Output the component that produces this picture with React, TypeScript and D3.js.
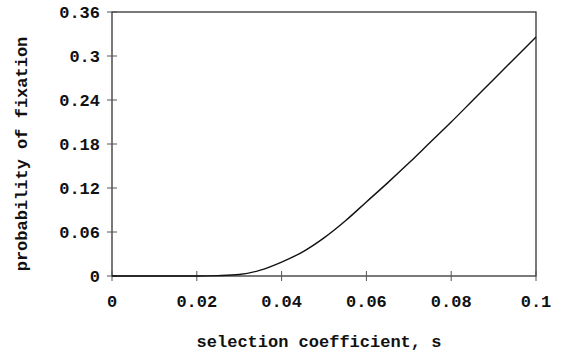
import React, { useEffect, useRef } from 'react';
import * as d3 from 'd3';

// selection coefficient s vs probability of fixation
const sValues = [0, 0.01, 0.02, 0.025, 0.03, 0.035, 0.04, 0.045, 0.05, 0.055, 0.06, 0.065, 0.07, 0.075, 0.08, 0.085, 0.09, 0.095, 0.1];
const fixProb = [0, 0, 0, 0.0005, 0.002, 0.008, 0.019, 0.033, 0.052, 0.075, 0.101, 0.127, 0.154, 0.182, 0.21, 0.239, 0.268, 0.297, 0.326];

const xTicks = [0, 0.02, 0.04, 0.06, 0.08, 0.1];
const yTicks = [0, 0.06, 0.12, 0.18, 0.24, 0.3, 0.36];

const xTitle = 'selection coefficient, s';
const yTitle = 'probability of fixation';

export default function App() {
  const svgRef = useRef<SVGSVGElement>(null);

  useEffect(() => {
    if (!svgRef.current) return;
    const svg = d3.select(svgRef.current);
    svg.selectAll('*').remove();

    const W = 562, H = 359;
    const margin = { top: 12, right: 26, bottom: 83, left: 112 };
    const width = W - margin.left - margin.right;
    const height = H - margin.top - margin.bottom;
    const font = '"Liberation Mono", "Courier New", monospace';

    const x = d3.scaleLinear().domain([0, 0.1]).range([0, width]);
    const y = d3.scaleLinear().domain([0, 0.36]).range([height, 0]);

    const g = svg.append('g').attr('transform', `translate(${margin.left},${margin.top})`);

    // frame
    g.append('rect')
      .attr('x', 0).attr('y', 0)
      .attr('width', width).attr('height', height)
      .attr('fill', 'none')
      .attr('stroke', '#222')
      .attr('stroke-width', 1.2);

    // y ticks (crossing the axis)
    g.selectAll('line.ytick')
      .data(yTicks)
      .enter()
      .append('line')
      .attr('x1', -5).attr('x2', 5)
      .attr('y1', d => y(d)).attr('y2', d => y(d))
      .attr('stroke', '#555')
      .attr('stroke-width', 1);

    g.selectAll('text.ylab')
      .data(yTicks)
      .enter()
      .append('text')
      .attr('x', -12)
      .attr('y', d => y(d))
      .attr('dy', '0.35em')
      .attr('text-anchor', 'end')
      .style('font-family', font)
      .style('font-weight', 'bold')
      .style('font-size', '17px')
      .style('fill', '#111')
      .text(d => d3.format('~g')(d));

    // x ticks
    g.selectAll('line.xtick')
      .data(xTicks)
      .enter()
      .append('line')
      .attr('x1', d => x(d)).attr('x2', d => x(d))
      .attr('y1', height - 5).attr('y2', height + 5)
      .attr('stroke', '#555')
      .attr('stroke-width', 1);

    g.selectAll('text.xlab')
      .data(xTicks)
      .enter()
      .append('text')
      .attr('x', d => x(d))
      .attr('y', height + 31)
      .attr('text-anchor', 'middle')
      .style('font-family', font)
      .style('font-weight', 'bold')
      .style('font-size', '17px')
      .style('fill', '#111')
      .text(d => d3.format('~g')(d));

    // curve
    const pts = sValues.map((s, i) => [s, fixProb[i]] as [number, number]);
    const line = d3.line<[number, number]>()
      .x(d => x(d[0]))
      .y(d => y(d[1]))
      .curve(d3.curveMonotoneX);

    g.append('path')
      .datum(pts)
      .attr('fill', 'none')
      .attr('stroke', '#111')
      .attr('stroke-width', 1.4)
      .attr('d', line);

    // titles
    svg.append('text')
      .attr('x', margin.left + width / 2 - 5)
      .attr('y', 347)
      .attr('text-anchor', 'middle')
      .style('font-family', font)
      .style('font-weight', 'bold')
      .style('font-size', '17px')
      .style('fill', '#111')
      .text(xTitle);

    svg.append('text')
      .attr('transform', `translate(27,${154}) rotate(-90)`)
      .attr('text-anchor', 'middle')
      .style('font-family', font)
      .style('font-weight', 'bold')
      .style('font-size', '17px')
      .style('fill', '#111')
      .text(yTitle);
  }, []);

  return (
    <svg
      ref={svgRef}
      width={562}
      height={359}
      style={{ position: 'absolute', left: 0, top: 0, background: '#fff' }}
    />
  );
}
